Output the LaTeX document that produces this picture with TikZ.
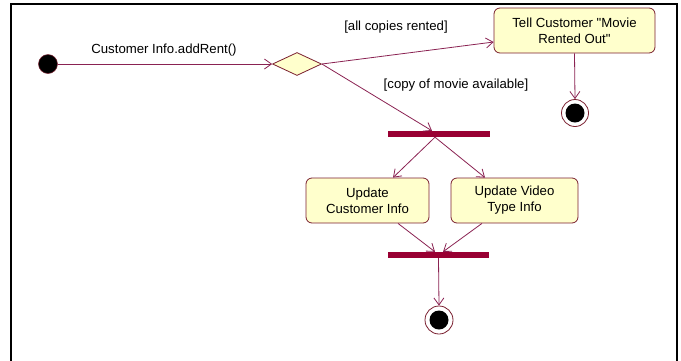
\documentclass[tikz,border=0pt]{standalone}
\usepackage{fontspec}
\setmainfont{Liberation Sans}[Ligatures=TeXOff]
\usetikzlibrary{shapes.geometric,arrows.meta,calc}
\definecolor{lnc}{HTML}{8A2252}
\definecolor{barc}{HTML}{990033}
\definecolor{boxfill}{HTML}{FFFFCC}
\definecolor{boxline}{HTML}{7A1F2F}
\begin{document}
\begin{tikzpicture}[x=1pt,y=-1pt,
  every node/.style={font=\fontsize{13.2}{16}\selectfont},
  act/.style={draw=boxline,fill=boxfill,rounded corners=6pt,line width=0.8pt,minimum height=45pt,align=center,inner sep=0pt},
  bar/.style={fill=barc,draw=none,minimum width=102pt,minimum height=6pt,inner sep=0pt},
  initst/.style={circle,fill=black,draw=boxline,line width=0.5pt,minimum size=19pt,inner sep=0pt},
  finalst/.style={circle,fill=white,draw=boxline,line width=0.8pt,minimum size=27pt,inner sep=0pt,
     path picture={\fill[black] (path picture bounding box.center) circle (9.5pt);}},
  flow/.style={draw=lnc,line width=0.8pt,-{Straight Barb[length=7pt,width=10pt]}},
  lbl/.style={inner sep=0pt,text=black}]
\useasboundingbox (0,0) rectangle (681,360);
\draw[line width=2.8pt,line cap=rect] (11,362) -- (11,4) -- (677,4) -- (677,362);

\node[initst] (init) at (48,64) {};
\node[diamond,draw=boxline,fill=boxfill,line width=0.8pt,minimum width=49pt,minimum height=23pt,inner sep=0pt] (dia) at (297,64) {};
\node[act,minimum width=161pt] (tell) at (574.5,30.5) {Tell Customer "Movie\\Rented Out"};
\node[finalst] (fin1) at (575,113) {};
\node[bar] (fork) at (439,134) {};
\node[act,minimum width=123pt] (upd1) at (367.5,200.5) {Update\\Customer Info};
\node[act,minimum width=127pt] (upd2) at (514.5,200.5) {Update Video\\Type Info};
\node[bar,minimum width=101pt] (join) at (438.5,255) {};
\node[finalst,minimum size=28pt] (fin2) at (439,320) {};

\node[lbl] (l1) at (164,50) {Customer Info.addRent()};
\node[lbl] (l2) at (396,27) {[all copies rented]};
\node[lbl] (l3) at (456,85) {[copy of movie available]};

\draw[flow] (init) -- (dia.west);
\draw[flow] (dia.east) -- ($(tell.west)+(0,11.5)$);
\draw[flow] (dia.east) -- ($(fork.north)+(-7,0)$);
\draw[flow] (tell.south) -- (fin1.north);
\draw[flow] ($(fork.south)+(-4,0)$) -- ($(upd1.north)+(25.5,0)$);
\draw[flow] ($(fork.south)+(-4,0)$) -- ($(upd2.north)+(-29.5,0)$);
\draw[flow] ($(upd1.south)+(30.5,0)$) -- ($(join.north)+(-3.5,0)$);
\draw[flow] ($(upd2.south)+(-32.5,0)$) -- ($(join.north)+(4.5,0)$);
\draw[flow] (join.south) -- (fin2.north);
\end{tikzpicture}
\end{document}
